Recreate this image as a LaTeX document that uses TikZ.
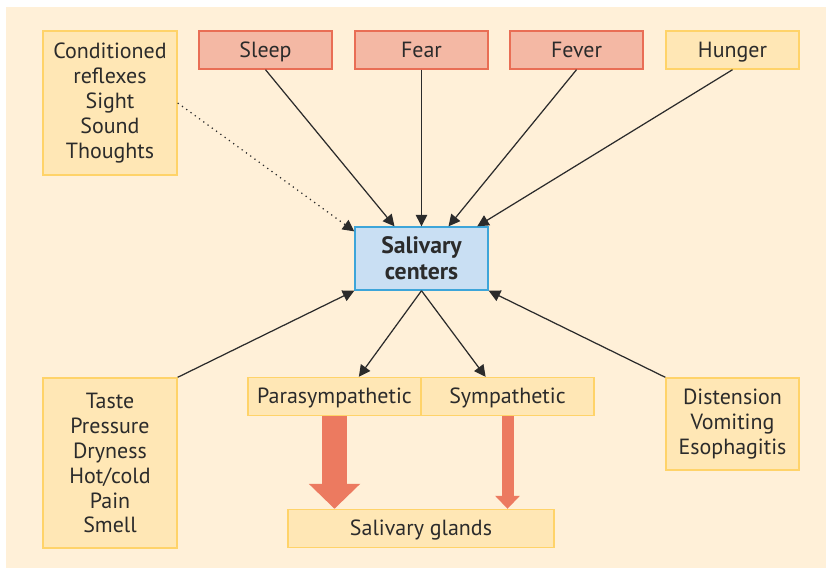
\documentclass[tikz,border=0pt]{standalone}
\usepackage{fontspec}
\setmainfont{PT Sans}
\usetikzlibrary{arrows.meta}

\definecolor{bgcream}{HTML}{FFF0D8}
\definecolor{ylwfill}{HTML}{FFE7B5}
\definecolor{ylwline}{HTML}{FFD369}
\definecolor{redfill}{HTML}{F4B8A4}
\definecolor{redline}{HTML}{E96E55}
\definecolor{bluefill}{HTML}{C9DFF3}
\definecolor{blueline}{HTML}{3DA5D9}
\definecolor{flowred}{HTML}{EC7A60}
\definecolor{txtgray}{HTML}{2B2B2B}

\begin{document}
\begin{tikzpicture}[
    box/.style={draw=ylwline,fill=ylwfill,line width=0.8pt,align=center,inner sep=0pt,
      text=txtgray,font=\fontsize{12.5}{14.2}\selectfont},
    rowbox/.style={box,minimum height=0.76cm,text height=9.5pt,text depth=1.5pt},
    smallbox/.style={rowbox,minimum width=2.66cm},
    redbox/.style={smallbox,draw=redline,fill=redfill},
    conn/.style={line width=0.7pt,draw=txtgray,-{Triangle[length=2.3mm,width=2.3mm]}}]
  \useasboundingbox (0,0) rectangle (16.52,-11.36);
  \fill[bgcream] (0.12,-0.14) rectangle (16.52,-11.36);
%  \draw[style=help lines] (0,0) grid (16,-11);
  \node[box,minimum width=2.68cm,minimum height=2.88cm] (cond) at (2.2,-2.06)
    {Conditioned\\reflexes\\Sight\\Sound\\Thoughts};
  \foreach \name/\txt/\x in {sleep/Sleep/5.31,fear/Fear/8.43,fever/Fever/11.53}
    \node[redbox] (\name) at (\x,-1) {\txt};
  \node[smallbox] (hunger) at (14.65,-1) {Hunger};
  \node[box,draw=blueline,fill=bluefill,minimum width=2.66cm,minimum height=1.26cm,
    font=\fontsize{13.5}{14.6}\selectfont\bfseries] (ctr) at (8.43,-5.17) {Salivary\\centers};
  \node[box,minimum width=2.68cm,minimum height=3.4cm] (taste) at (2.2,-9.26)
    {Taste\\Pressure\\Dryness\\Hot/cold\\Pain\\Smell};
  \node[rowbox,minimum width=3.46cm] (para) at (6.69,-7.93) {Parasympathetic};
  \node[rowbox,minimum width=3.46cm] (symp) at (10.15,-7.93) {Sympathetic};
  \node[rowbox,minimum width=5.32cm] (glands) at (8.42,-10.57) {Salivary glands};
  \node[box,minimum width=2.66cm,minimum height=1.84cm] (dist) at (14.65,-8.48)
    {Distension\\Vomiting\\Esophagitis};
  % inputs to the centers
  \foreach \from/\to in {sleep/130,fear/90,fever/50,hunger/30}
    \draw[conn] (\from.south) -- (ctr.\to);
  \draw[conn,dash pattern=on 0.7pt off 2.3pt] (cond.east) -- (ctr.158);
  \draw[conn] (taste.north east) -- (ctr.south west);
  \draw[conn] (dist.north west) -- (ctr.south east);
  \draw[conn] (ctr.south) -- (para.39);
  \draw[conn] (ctr.south) -- (symp.138);
  % outflow to the glands
  \draw[flowred,line width=0.5cm,-{Triangle[length=0.5cm,width=1cm]}] (para.south) -- (para.south |- glands.north);
  \draw[flowred,line width=0.24cm,-{Triangle[length=0.26cm,width=0.48cm]}] (symp.south) -- (symp.south |- glands.north);
\end{tikzpicture}
\end{document}
